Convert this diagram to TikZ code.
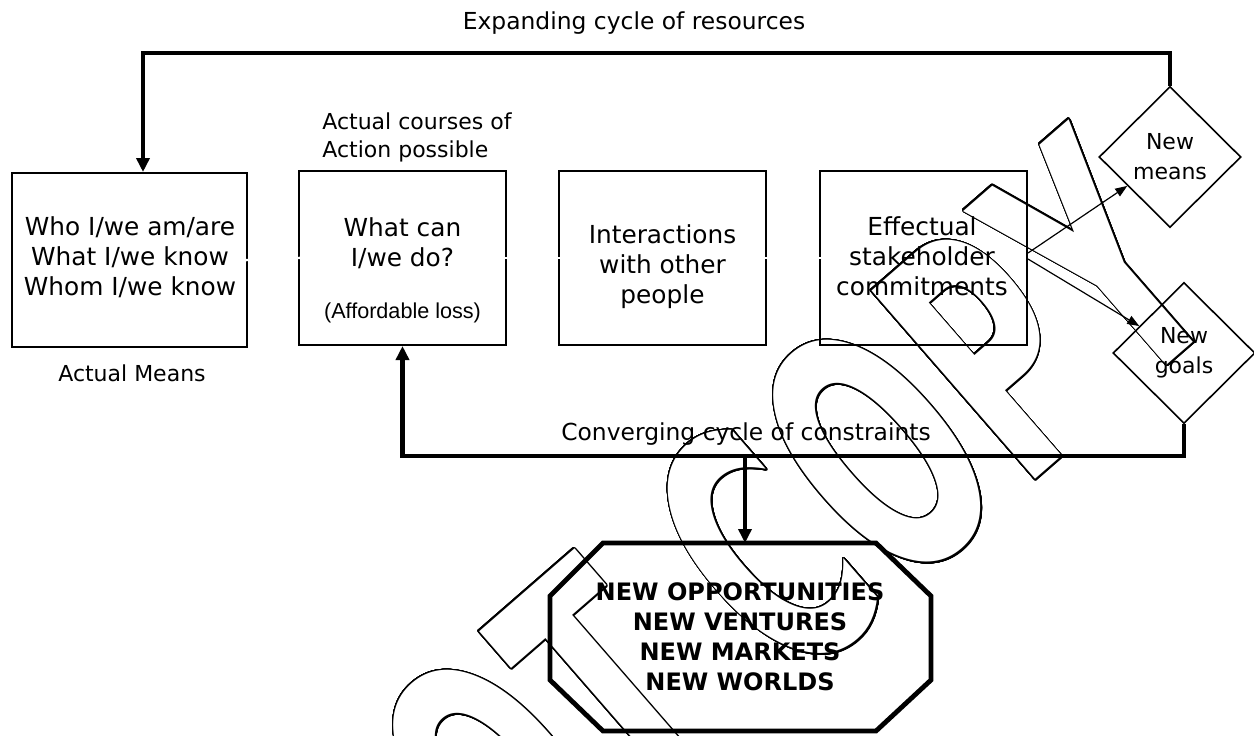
\documentclass[tikz,border=0pt]{standalone}
\usepackage{fontspec}
\usepackage{graphicx}
\usepackage{contour}
\usetikzlibrary{arrows.meta,shapes.geometric}
\setmainfont{DejaVu Sans}
\newfontfamily\arialfont{Liberation Sans}
\newfontfamily\stampfont{DejaVu Sans Bold}

% hollow stamp letter, condensed horizontally
\contourlength{0.9pt}
\contournumber{48}
\newcommand\stampletter[1]{\scalebox{0.55}[1]{\fontsize{171}{171}\selectfont\stampfont
  \color{white}\contour{black}{#1}}}

\begin{document}
\begin{tikzpicture}[x=0.5pt,y=-0.5pt,
  box/.style={draw,line width=1pt,minimum width=103.5pt,minimum height=87pt,inner sep=0pt},
  bigbox/.style={box,minimum width=117.5pt},
  boxtext/.style={align=center,font=\fontsize{12.4}{15}\selectfont,inner sep=0pt},
  label/.style={font=\fontsize{11.7}{14}\selectfont,inner sep=0pt},
  gem/.style={draw,diamond,line width=0.8pt,minimum width=71pt,minimum height=70.5pt,inner sep=0pt,
    align=center,font=\fontsize{11}{15}\selectfont},
  loop/.style={line width=2.4pt,-{Triangle[length=7pt,width=6.5pt]}},
  thin/.style={line width=0.6pt,-{Triangle[length=6pt,width=4.5pt]}},
  hidden/.style={white,line width=1.2pt,shorten <=-0.9pt,shorten >=-0.9pt},
  stamp/.style={rotate=41,inner sep=0pt,anchor=center}]
\useasboundingbox (0,0) rectangle (1254,735);

% stamp across the sheet, laid down first
\foreach \ch/\px/\py [count=\i] in {O/498/782, T/609.5/685, C/763/552, O/878/452, P/993/352, Y/1099/260}
  \node[stamp] (stamp\i) at (\px,\py) {\stampletter{\ch}};

% headings
\node[label] (exp) at (634,23) {Expanding cycle of resources};
\node[label,align=left,anchor=west,font=\fontsize{11}{14}\selectfont] (courses) at (322,137)
  {Actual courses of\\Action possible};
\node[label,font=\fontsize{11}{14}\selectfont] (means) at (132,373) {Actual Means};
\node[label] (conv) at (746,434) {Converging cycle of constraints};

% the four stages
\node[bigbox] (b1) at (129.5,260) {};
\node[boxtext] (t1) at (130,257.5) {Who I/we am/are\\What I/we know\\Whom I/we know};
\node[box] (b2) at (402.5,258) {};
\node[boxtext] (t2) at (402.5,243) {What can\\I/we do?};
\node[inner sep=0pt,font=\arialfont\fontsize{10.8}{13}\selectfont] (t2b) at (402.5,313) {(Affordable loss)};
\node[box] (b3) at (662.5,258) {};
\node[boxtext] (t3) at (662.5,266.5) {Interactions\\with other\\people};
\node[box] (b4) at (923.5,258) {};
\node[boxtext] (t4) at (922,256) {Effectual\\stakeholder\\commitments};

% white links between the stages
\draw[hidden] (b1.east) -- (b2.west);
\draw[hidden] (b2.east) -- (b3.west);
\draw[hidden] (b3.east) -- (b4.west);

% outcomes
\node[gem] (nm) at (1170,157) {New\\means};
\node[gem] (ng) at (1184,353) {New\\goals};

% result
\coordinate (o1) at (603,543); \coordinate (o2) at (876,543);
\coordinate (o3) at (931,596); \coordinate (o4) at (931,680);
\coordinate (o5) at (876,731); \coordinate (o6) at (603,731);
\coordinate (o7) at (550,680); \coordinate (o8) at (550,596);
\draw[line width=2.4pt,line join=miter] (o1) -- (o2) -- (o3) -- (o4) -- (o5) -- (o6) -- (o7) -- (o8) -- cycle;
\node[align=center,inner sep=0pt,font=\bfseries\fontsize{12}{15}\selectfont] (res) at (740,637)
  {NEW OPPORTUNITIES\\NEW VENTURES\\NEW MARKETS\\NEW WORLDS};
\coordinate (otop) at (745,543);

% cycles
\coordinate (ytop) at (0,53);
\coordinate (xl) at (143,0);
\coordinate (ybot) at (0,456);
\coordinate (split) at (745,456);
\draw[loop] (nm.north) -- (nm.north |- ytop) -| (b1.north -| xl);
\draw[loop] (ng.south) -- (ng.south |- ybot) -| (b2.south);
\draw[loop] (split) -- (otop);
\draw[thin] ([yshift=2.5pt]b4.east) -- (nm);
\draw[thin] ([yshift=-0.5pt]b4.east) -- (ng);
\end{tikzpicture}
\end{document}
